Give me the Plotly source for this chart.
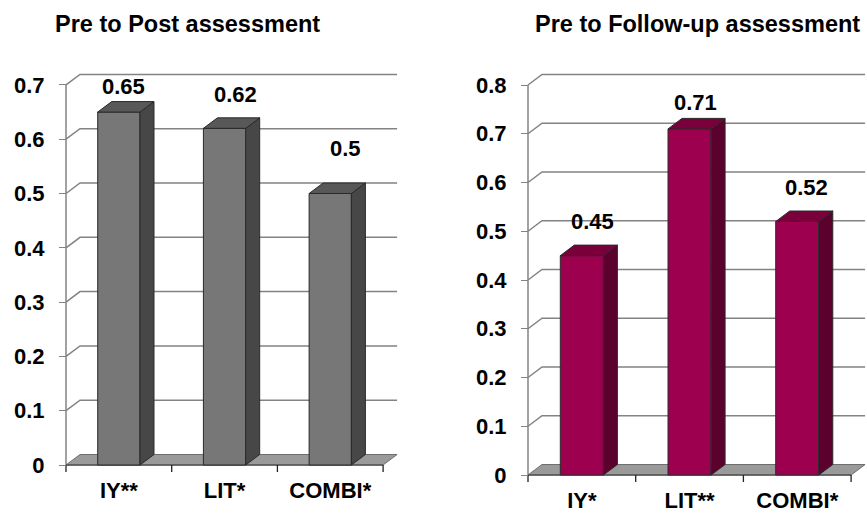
import plotly.graph_objects as go

# ---- data ----
categories_post = ["IY**", "LIT*", "COMBI*"]
values_post = [0.65, 0.62, 0.5]

categories_follow = ["IY*", "LIT**", "COMBI*"]
values_follow = [0.45, 0.71, 0.52]

yticks_post = [0, 0.1, 0.2, 0.3, 0.4, 0.5, 0.6, 0.7]
yticks_follow = [0, 0.1, 0.2, 0.3, 0.4, 0.5, 0.6, 0.7, 0.8]

titles = ["Pre to Post assessment", "Pre to Follow-up assessment"]

# ---- canvas / styling ----
W, H = 867, 513
FONT = "Liberation Sans, Arial, sans-serif"
GRID = "#838383"
AXIS = "#555555"
FLOOR = "#9a9a9a"
EDGE = "#2a2a2a"
TICK_SIZE = 22
LABEL_SIZE = 22

# pixel geometry of each panel (front plane): y-axis x, zero line y, unit sizes, plot box
panels = [
    dict(cats=categories_post, vals=values_post, ticks=yticks_post,
         axis_x=66, zero_y=465, unit_x=105.7, unit_y=543.0,
         box_x=(50, 412), box_y=(62, 480),
         front="#777777", top="#585858", side="#474747",
         label_shift=[(5, 26), (11, 34), (15, 45)],
         title=titles[0], title_x=187),
    dict(cats=categories_follow, vals=values_follow, ticks=yticks_follow,
         axis_x=528, zero_y=475, unit_x=107.7, unit_y=487.5,
         box_x=(515, 867), box_y=(62, 490),
         front="#9e0050", top="#7a003c", side="#5c002e",
         label_shift=[(11, 34), (6, 26), (9, 34)],
         title=titles[1], title_x=697),
]

DEPTH_X, DEPTH_Y = 14.0, 10.5   # 3D depth offset in pixels
BAR_W = 0.4

fig = go.Figure()
shapes, annotations = [], []
layout_axes = {}

for k, p in enumerate(panels):
    sfx = "" if k == 0 else str(k + 1)
    xa, ya = "x" + sfx, "y" + sfx
    x0, x1 = p["box_x"]
    y0, y1 = p["box_y"]
    ux, uy = p["unit_x"], p["unit_y"]
    xrange = [-0.5 + (x0 - p["axis_x"]) / ux, -0.5 + (x1 - p["axis_x"]) / ux]
    yrange = [(p["zero_y"] - y1) / uy, (p["zero_y"] - y0) / uy]
    ddx, ddy = DEPTH_X / ux, DEPTH_Y / uy
    n = len(p["cats"])
    xl, xr = -0.5, n - 0.5
    ytop = p["ticks"][-1]

    layout_axes["xaxis" + sfx] = dict(
        domain=[x0 / W, x1 / W], range=xrange, anchor="free",
        position=(H - p["zero_y"]) / H,
        tickvals=list(range(n)), ticktext=p["cats"], ticks="",
        showline=False, showgrid=False, zeroline=False,
        tickfont=dict(family=FONT, size=TICK_SIZE, color="black", weight="bold"),
        ticklabelstandoff=10, fixedrange=True,
    )
    layout_axes["yaxis" + sfx] = dict(
        domain=[(H - y1) / H, (H - y0) / H], range=yrange, anchor="free",
        position=p["axis_x"] / W,
        tickvals=p["ticks"], ticktext=[f"{t:g}" for t in p["ticks"]],
        ticks="outside", ticklen=7, tickwidth=1.3, tickcolor=GRID,
        showline=False, showgrid=False, zeroline=False,
        tickfont=dict(family=FONT, size=TICK_SIZE, color="black", weight="bold"),
        ticklabelstandoff=10, fixedrange=True,
    )

    # floor
    shapes.append(dict(
        type="path", xref=xa, yref=ya, layer="below",
        path=f"M {xl},0 L {xr},0 L {xr + ddx},{ddy} L {xl + ddx},{ddy} Z",
        fillcolor=FLOOR, line=dict(color="#6e6e6e", width=1)))
    # back wall gridlines with their diagonal returns to the y axis
    for t in p["ticks"][1:]:
        shapes.append(dict(
            type="path", xref=xa, yref=ya, layer="below",
            path=f"M {xl},{t} L {xl + ddx},{t + ddy} L {xr + ddx},{t + ddy}",
            line=dict(color=GRID, width=1.5)))
    # y axis line
    shapes.append(dict(type="line", xref=xa, yref=ya, layer="below",
                       x0=xl, x1=xl, y0=0, y1=ytop,
                       line=dict(color=GRID, width=1.5)))
    # x axis line and category boundary ticks
    shapes.append(dict(type="line", xref=xa, yref=ya, layer="below",
                       x0=xl, x1=xr, y0=0, y1=0,
                       line=dict(color=AXIS, width=1.3)))
    for b in range(n + 1):
        shapes.append(dict(type="line", xref=xa, yref=ya, layer="below",
                           x0=b - 0.5, x1=b - 0.5, y0=0, y1=-7 / uy,
                           line=dict(color="#222222", width=1.3)))

    # bar front faces
    fig.add_trace(go.Bar(
        x=list(range(n)), y=p["vals"], width=BAR_W, xaxis=xa, yaxis=ya,
        marker=dict(color=p["front"], line=dict(color=EDGE, width=1)),
        hoverinfo="skip", showlegend=False))

    # bar tops and sides
    tx, ty, sx, sy = [], [], [], []
    for i, v in enumerate(p["vals"]):
        a, b = i - BAR_W / 2, i + BAR_W / 2
        tx += [a, a + ddx, b + ddx, b, a, None]
        ty += [v, v + ddy, v + ddy, v, v, None]
        sx += [b, b + ddx, b + ddx, b, b, None]
        sy += [0, ddy, v + ddy, v, 0, None]
    fig.add_trace(go.Scatter(x=sx, y=sy, xaxis=xa, yaxis=ya, mode="lines",
                             fill="toself", fillcolor=p["side"],
                             line=dict(color=EDGE, width=1),
                             hoverinfo="skip", showlegend=False))
    fig.add_trace(go.Scatter(x=tx, y=ty, xaxis=xa, yaxis=ya, mode="lines",
                             fill="toself", fillcolor=p["top"],
                             line=dict(color=EDGE, width=1),
                             hoverinfo="skip", showlegend=False))

    # value labels
    for i, v in enumerate(p["vals"]):
        dxs, dys = p["label_shift"][i]
        annotations.append(dict(
            x=i, y=v, xref=xa, yref=ya, text=f"{v:g}", showarrow=False,
            xshift=dxs, yshift=dys, yanchor="middle",
            font=dict(family=FONT, size=LABEL_SIZE, color="black", weight="bold")))

    # panel title
    annotations.append(dict(
        x=p["title_x"] / W, y=1 - 24 / H, xref="paper", yref="paper",
        text=p["title"], showarrow=False, xanchor="center", yanchor="middle",
        font=dict(family=FONT, size=23.5, color="black", weight="bold")))

fig.update_layout(
    width=W, height=H, margin=dict(l=0, r=0, t=0, b=0),
    paper_bgcolor="white", plot_bgcolor="rgba(0,0,0,0)",
    shapes=shapes, annotations=annotations, showlegend=False,
    **layout_axes,
)

fig.write_html("out.html", config={"displayModeBar": False})
